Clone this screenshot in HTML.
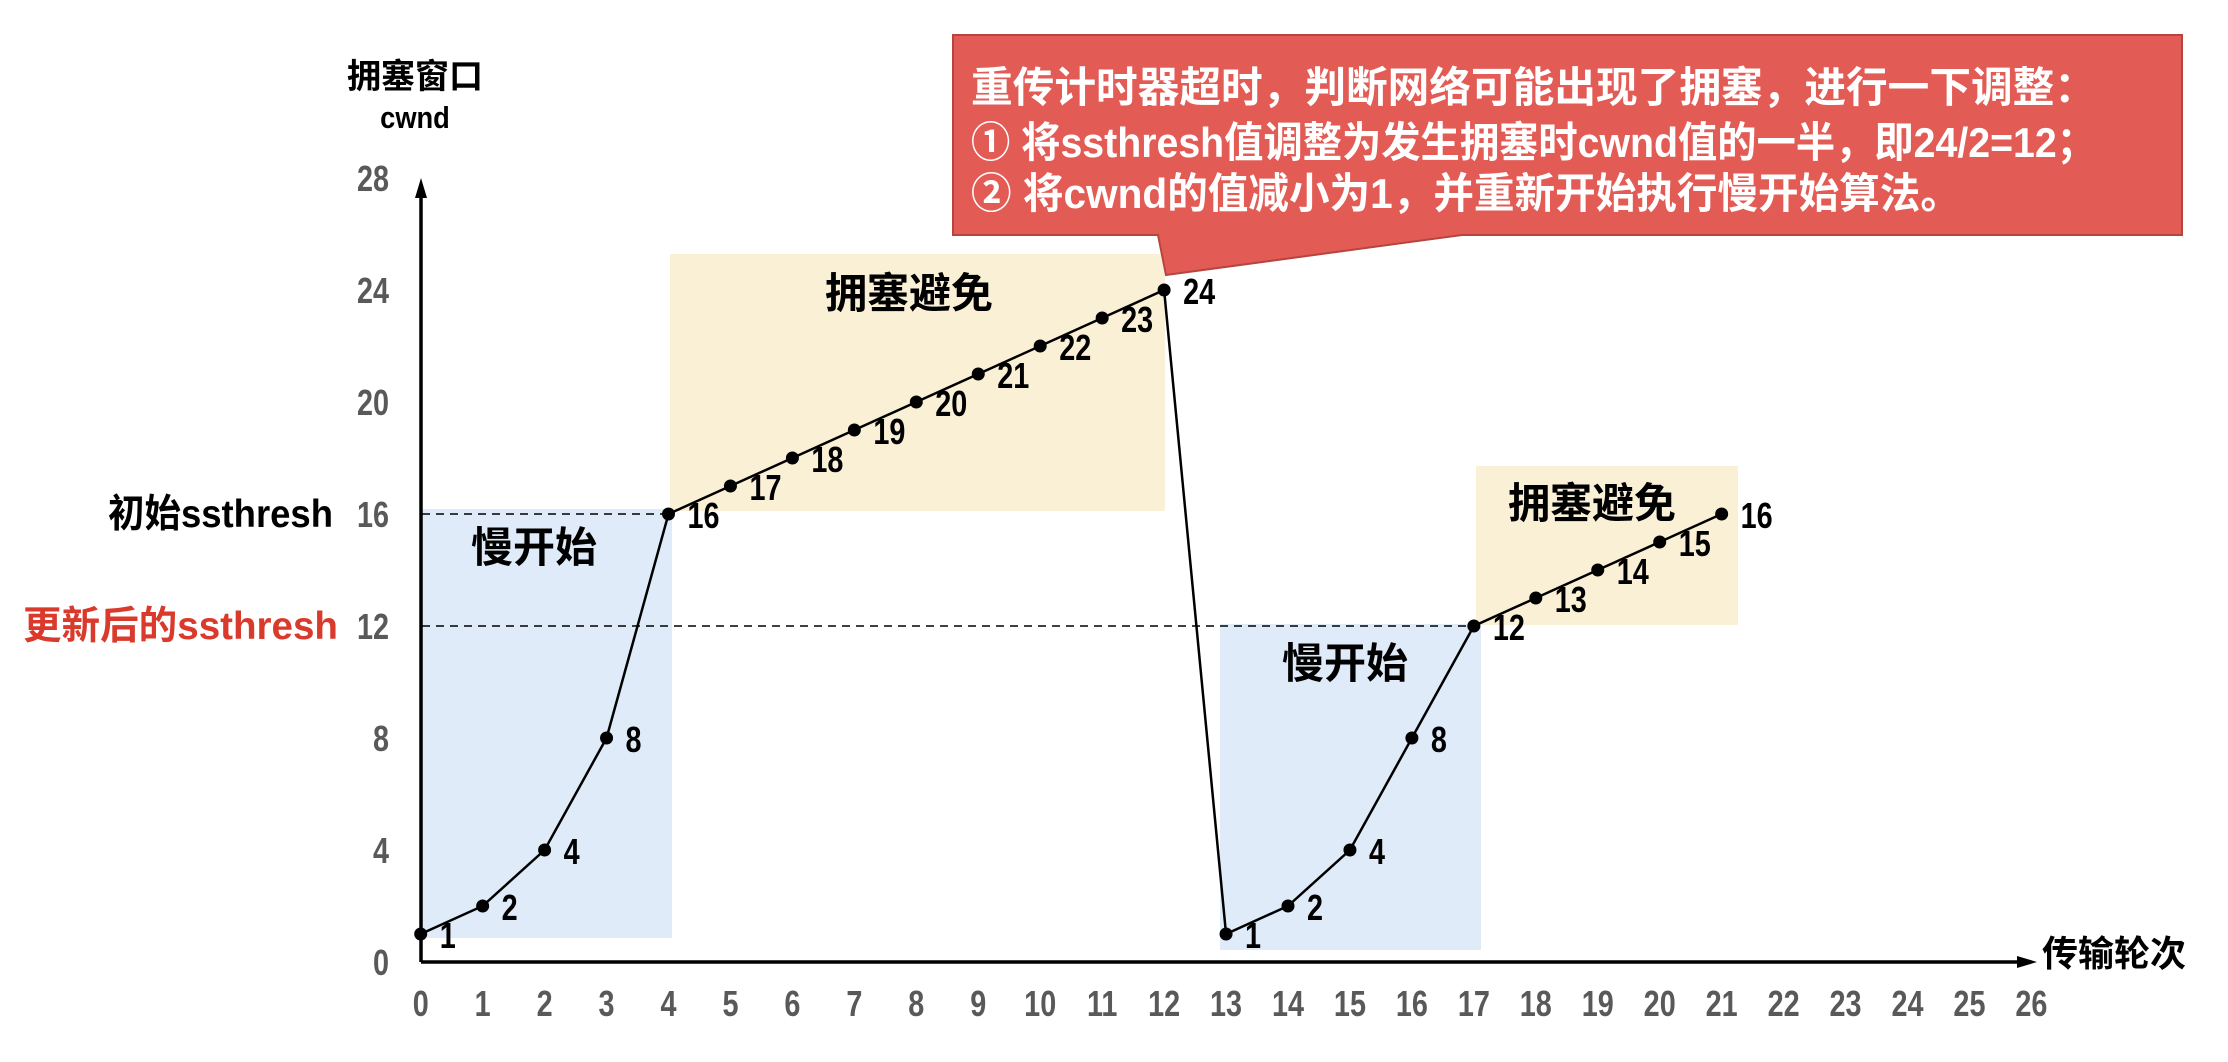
<!DOCTYPE html>
<html><head><meta charset="utf-8"><style>
html,body{margin:0;padding:0;background:#fff;}
svg{display:block;}
text{font-family:"Liberation Sans","Noto Sans CJK SC",sans-serif;font-weight:bold;}
.cjk{font-family:"Liberation Sans","Noto Sans CJK SC",sans-serif;font-weight:bold;}
</style></head><body>
<svg width="2228" height="1062" viewBox="0 0 2228 1062" xmlns="http://www.w3.org/2000/svg">
<rect x="0" y="0" width="2228" height="1062" fill="#fff"/>
<rect x="422" y="509" width="250" height="429" fill="#dfebf8"/>
<rect x="670" y="254" width="495" height="257" fill="#faf0d6"/>
<rect x="1220" y="624" width="261" height="326" fill="#dfebf8"/>
<rect x="1476" y="466" width="262" height="159" fill="#faf0d6"/>
<line x1="422" y1="514" x2="670" y2="514" stroke="#000" stroke-width="1.6" stroke-dasharray="8,6"/>
<line x1="422" y1="626" x2="1476" y2="626" stroke="#000" stroke-width="1.6" stroke-dasharray="8,6"/>
<line x1="421" y1="962" x2="421" y2="195" stroke="#000" stroke-width="3.5"/>
<polygon points="421,178 415,198 427,198" fill="#000"/>
<line x1="421" y1="962" x2="2020" y2="962" stroke="#000" stroke-width="3.5"/>
<polygon points="2037,962 2017,956 2017,968" fill="#000"/>
<polygon points="953,35 2182,35 2182,235 1462,235 1166,275 1158,235 953,235" fill="#e35b55" stroke="#b84440" stroke-width="2"/>
<text class="cjk" x="971" y="102" font-size="42" fill="#fff" textLength="1125" lengthAdjust="spacingAndGlyphs">重传计时器超时，判断网络可能出现了拥塞，进行一下调整：</text>
<text class="cjk" x="971" y="157" font-size="42" fill="#fff" textLength="1125" lengthAdjust="spacingAndGlyphs">①  将ssthresh值调整为发生拥塞时cwnd值的一半，即24/2=12；</text>
<text class="cjk" x="971" y="208" font-size="42" fill="#fff" textLength="990" lengthAdjust="spacingAndGlyphs">②  将cwnd的值减小为1，并重新开始执行慢开始算法。</text>
<g id="yl"></g>
<g id="xl"></g>
<text class="cjk" x="415" y="88" font-size="34" text-anchor="middle" fill="#000">拥塞窗口</text>
<text x="415" y="128" font-size="31" text-anchor="middle" fill="#000" transform="translate(415 0) scale(0.88 1) translate(-415 0)">cwnd</text>
<text class="cjk" x="2114" y="966" font-size="36" text-anchor="middle" fill="#000">传输轮次</text>
<text class="cjk" x="333" y="527" font-size="39" text-anchor="end" fill="#000" textLength="225" lengthAdjust="spacingAndGlyphs">初始ssthresh</text>
<text class="cjk" x="338" y="639" font-size="39" text-anchor="end" fill="#d93a2b" textLength="315" lengthAdjust="spacingAndGlyphs">更新后的ssthresh</text>
<text class="cjk" x="909" y="308" font-size="42" text-anchor="middle" fill="#000">拥塞避免</text>
<text class="cjk" x="534" y="562" font-size="42" text-anchor="middle" fill="#000">慢开始</text>
<text class="cjk" x="1345" y="678" font-size="42" text-anchor="middle" fill="#000">慢开始</text>
<text class="cjk" x="1592" y="518" font-size="42" text-anchor="middle" fill="#000">拥塞避免</text>
<g id="series"></g>
</svg>
<script>
(function(){
var NS="http://www.w3.org/2000/svg";
function X(i){return 420.7+61.95*i;}
function Y(v){return 962-28*v;}
function txt(parent,x,y,s,size,fill,anchor){
 var t=document.createElementNS(NS,'text');t.setAttribute('x',0);t.setAttribute('y',0);
 t.setAttribute('font-size',size);t.setAttribute('fill',fill);t.setAttribute('text-anchor',anchor);
 t.setAttribute('transform','translate('+x+' '+y+') scale(0.8 1)');t.textContent=s;parent.appendChild(t);}
var xl=document.getElementById('xl');
for(var i=0;i<=26;i++){txt(xl,X(i),1016,i,36,'#595959','middle');}
var yl=document.getElementById('yl');
for(var v=0;v<=28;v+=4){txt(yl,389,Y(v)+13,v,36,'#595959','end');}
var d=[1,2,4,8,16,17,18,19,20,21,22,23,24,1,2,4,8,12,13,14,15,16];
var g=document.getElementById('series');
var pts=d.map(function(v,i){return X(i)+','+Y(v);}).join(' ');
var pl=document.createElementNS(NS,'polyline');pl.setAttribute('points',pts);pl.setAttribute('fill','none');pl.setAttribute('stroke','#000');pl.setAttribute('stroke-width','2.5');g.appendChild(pl);
d.forEach(function(v,i){
var c=document.createElementNS(NS,'circle');c.setAttribute('cx',X(i));c.setAttribute('cy',Y(v));c.setAttribute('r',6.5);c.setAttribute('fill','#000');g.appendChild(c);
txt(g,X(i)+19,Y(v)+14,v,36,'#000','start');
});
})();
</script>
</body></html>
